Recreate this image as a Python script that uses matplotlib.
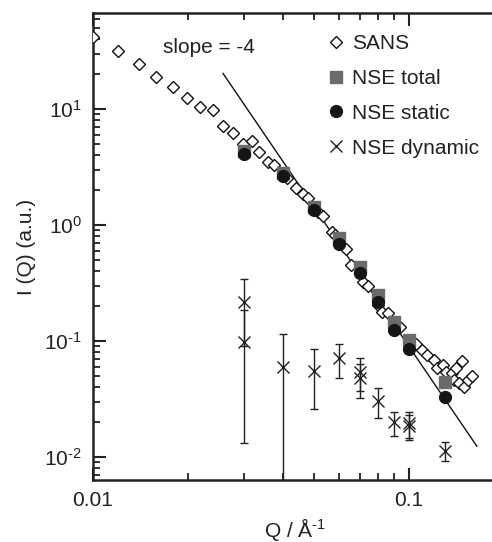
import matplotlib
matplotlib.use("Agg")
import matplotlib.pyplot as plt
import numpy as np
from matplotlib.lines import Line2D
from matplotlib.ticker import LogLocator, FixedLocator, FixedFormatter, NullFormatter

plt.rcParams['font.family'] = ['Liberation Sans', 'DejaVu Sans']
plt.rcParams['mathtext.default'] = 'regular'
plt.rcParams['mathtext.fontset'] = 'custom'
plt.rcParams['mathtext.rm'] = 'Liberation Sans'

# SANS data
sans_q = [0.0100, 0.0120, 0.01395, 0.01585, 0.0179, 0.0198, 0.0218, 0.0239, 0.0257, 0.0278,
          0.0298, 0.0319, 0.0336, 0.0357, 0.0375, 0.0410, 0.0438, 0.0463, 0.0480, 0.0515,
          0.0536, 0.0569, 0.0585, 0.0632, 0.0654, 0.0714, 0.0743, 0.0800, 0.0820, 0.0856,
          0.0937, 0.1032, 0.1052, 0.1096, 0.1137, 0.1200, 0.1223, 0.1280, 0.1306, 0.1365,
          0.1387, 0.1410, 0.1440, 0.1470, 0.1490, 0.1540, 0.1580]
sans_i = [42.0, 31.8, 24.5, 19.0, 15.6, 12.4, 10.5, 9.9, 7.13, 6.25,
          4.99, 5.33, 4.28, 3.52, 3.29, 2.55, 2.07, 1.87, 1.70, 1.30,
          1.196, 0.876, 0.82, 0.617, 0.452, 0.324, 0.298, 0.205, 0.179, 0.173,
          0.1327, 0.0986, 0.0942, 0.0836, 0.0757, 0.0685, 0.0582, 0.0621, 0.0543, 0.0527,
          0.0461, 0.0582, 0.0432, 0.0673, 0.0403, 0.0461, 0.0499]

# NSE data
nse_q = [0.03, 0.04, 0.05, 0.06, 0.07, 0.08, 0.09, 0.10, 0.13]
nse_total = [4.37, 2.82, 1.44, 0.767, 0.431, 0.249, 0.1466, 0.102, 0.0446]
nse_static = [4.09, 2.66, 1.35, 0.686, 0.383, 0.217, 0.1245, 0.0847, 0.0331]

dyn_q = [0.03, 0.03, 0.04, 0.05, 0.06, 0.07, 0.07, 0.08, 0.09, 0.10, 0.10, 0.13]
dyn_i = [0.218, 0.0986, 0.060, 0.0555, 0.0710, 0.054, 0.048, 0.0304, 0.0199, 0.0195, 0.0185, 0.0113]
dyn_err = [0.128, 0.0855, 0.055, 0.0295, 0.0234, 0.017, 0.016, 0.0087, 0.0046, 0.0048, 0.0045, 0.0021]

# slope -4 guide line
slope_q = [0.0258, 0.164]
slope_amp = 8.98e-6
slope_exp = -4

ytick_vals = [0.01, 0.1, 1, 10]
ytick_labels = ['$10^{\u20102}$', '$10^{\u20101}$', '$10^{0}$', '$10^{1}$']
xtick_vals = [0.01, 0.1]
xtick_labels = ['0.01', '0.1']

ink = '#222222'

fig = plt.figure(figsize=(4.92, 5.42), dpi=100)
ax = fig.add_axes([93/492, 62/542, (497-93)/492, (480-13)/542])
ax.set_xscale('log')
ax.set_yscale('log')
ax.set_xlim(0.01, 0.19)
ax.set_ylim(0.00634, 67.3)

sq = np.array(slope_q)
ax.plot(sq, slope_amp * sq**slope_exp, color='#111111', lw=1.0, zorder=2)

ax.plot(sans_q, sans_i, linestyle='none', marker='D', ms=6.2, mfc='white', mec='#111111',
        mew=1.0, zorder=3)
ax.plot(nse_q, nse_total, linestyle='none', marker='s', ms=8, mfc='#6b6b6b', mec='#6b6b6b',
        zorder=4)
ax.plot(nse_q, nse_static, linestyle='none', marker='o', ms=8.5, mfc='#151515', mec='#151515',
        zorder=5)
ax.errorbar(dyn_q, dyn_i, yerr=dyn_err, fmt='x', color=ink, ms=9, mew=1.0,
            elinewidth=1.0, capsize=3, capthick=1.0, zorder=3)

ax.text(0.0166, 34.2, 'slope = -4', fontsize=15, ha='left', va='center', color=ink)

ax.set_xticks(xtick_vals)
ax.set_xticklabels(xtick_labels)
ax.xaxis.set_minor_locator(LogLocator(base=10, subs=np.arange(2, 10)))
ax.xaxis.set_minor_formatter(NullFormatter())
ax.yaxis.set_major_locator(FixedLocator(ytick_vals))
ax.yaxis.set_major_formatter(FixedFormatter(ytick_labels))
ax.yaxis.set_minor_locator(LogLocator(base=10, subs=np.arange(2, 10)))
ax.yaxis.set_minor_formatter(NullFormatter())

ax.tick_params(which='both', direction='in', top=True, right=False, colors=ink,
               labelsize=15, labelcolor=ink)
ax.tick_params(which='major', length=9, width=1.5, pad=8)
ax.tick_params(which='minor', length=5, width=1.3)
for s in ['left', 'bottom', 'top']:
    ax.spines[s].set_linewidth(1.8)
    ax.spines[s].set_color(ink)
ax.spines['right'].set_visible(False)

ax.set_xlabel('Q / Å$^{\u20101}$', fontsize=15, color=ink, labelpad=4)
ax.set_ylabel('I (Q) (a.u.)', fontsize=15, color=ink, labelpad=6)

handles = [
    Line2D([], [], ls='none', marker='D', ms=6.2, mfc='white', mec='#111111', mew=1.0),
    Line2D([], [], ls='none', marker='s', ms=8, mfc='#6b6b6b', mec='#6b6b6b'),
    Line2D([], [], ls='none', marker='o', ms=8.5, mfc='#151515', mec='#151515'),
    Line2D([], [], ls='none', marker='x', ms=9, mew=1.0, color=ink),
]
labels = ['SANS', 'NSE total', 'NSE static', 'NSE dynamic']
leg = fig.legend(handles, labels,
                 loc='upper left', bbox_to_anchor=(328/492, (542-34)/542),
                 frameon=False, fontsize=15, handlelength=0.8, handletextpad=0.35,
                 labelspacing=0.76, borderpad=0, borderaxespad=0, numpoints=1)
for t in leg.get_texts():
    t.set_color(ink)

fig.savefig('out.png', dpi=100)
